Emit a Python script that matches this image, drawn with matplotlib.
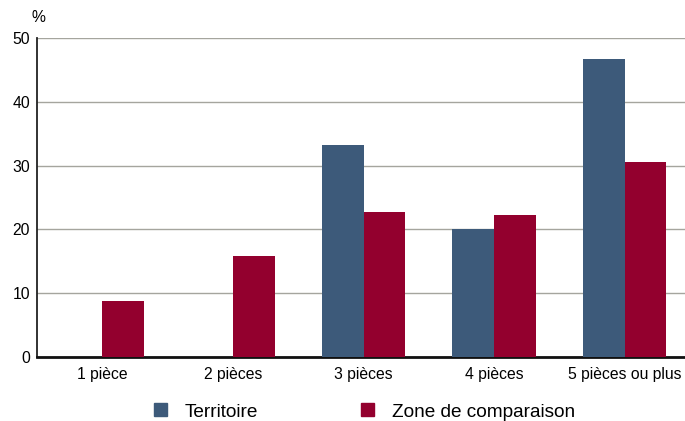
import numpy as np
import matplotlib
matplotlib.use("Agg")
import matplotlib.pyplot as plt
from matplotlib.patches import Patch

# data
categories = ["1 pièce", "2 pièces", "3 pièces", "4 pièces", "5 pièces ou plus"]
territoire = [0, 0, 33.3, 20.0, 46.7]
zone_comp = [8.8, 15.8, 22.8, 22.2, 30.5]
yticks = [0, 10, 20, 30, 40, 50]

blue = "#3d5a7a"
red = "#93002e"

plt.rcParams["font.family"] = ["Liberation Sans", "DejaVu Sans"]

fig = plt.figure(figsize=(6.85, 4.21), dpi=100)
ax = fig.add_axes([37 / 685, 64 / 421, 653 / 685, 319 / 421])

x = np.arange(len(categories))
w = 0.32
ax.bar(x - w / 2, territoire, w, color=blue, zorder=3)
ax.bar(x + w / 2, zone_comp, w, color=red, zorder=3)

ax.set_xlim(-0.5, len(categories) - 0.5)
ax.set_ylim(0, 50)
ax.set_yticks(yticks)
ax.set_xticks(x)
ax.set_xticklabels(categories)
ax.tick_params(axis="both", length=0, labelsize=11.3, colors="#000000")
ax.tick_params(axis="y", pad=5)
ax.tick_params(axis="x", pad=7)

ax.yaxis.grid(True, color="#a5a59e", linewidth=1, zorder=0)
for s in ["top", "right"]:
    ax.spines[s].set_visible(False)
ax.spines["left"].set_color("#222222")
ax.spines["left"].set_linewidth(1.3)
ax.spines["bottom"].set_color("#111111")
ax.spines["bottom"].set_linewidth(2)
ax.axhline(50, color="#707070", linewidth=1.2, zorder=1)

fig.text(31 / 685, 1 - 18 / 421, "%", fontsize=11.3, va="center", ha="left")

handles = [Patch(color=blue, label="Territoire"),
           Patch(color=red, label="Zone de comparaison")]
fig.legend(handles=handles, loc="center left", ncol=2, frameon=False,
           bbox_to_anchor=(154 / 685, 1 - 412 / 421), fontsize=13.7,
           handlelength=0.68, handleheight=0.68, handletextpad=0.95,
           columnspacing=5.4, borderaxespad=0, borderpad=0)

fig.savefig("out.png", dpi=100)
